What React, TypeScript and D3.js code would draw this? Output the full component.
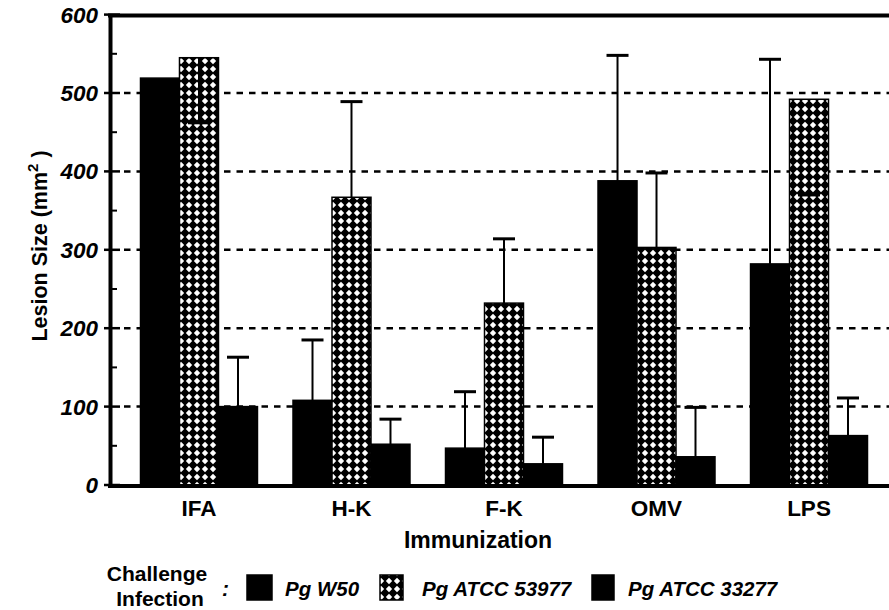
import React from 'react';
import * as d3 from 'd3';

const categories = ['IFA', 'H-K', 'F-K', 'OMV', 'LPS'];
const seriesNames = ['Pg W50', 'Pg ATCC 53977', 'Pg ATCC 33277'];
const w50 = [519, 108, 47, 388, 282];
const w50ErrEnd = [null, 185, 119, 548, 543];
const atcc53977 = [545, 367, 232, 303, 492];
const atcc53977ErrEnd = [462, 489, 314, 398, 370];
const atcc33277 = [100, 52, 27, 36, 63];
const atcc33277ErrEnd = [163, 84, 61, 99, 111];
const yTicks = [0, 100, 200, 300, 400, 500, 600];
const yMinorTicks = [50, 150, 250, 350, 450, 550];

const W = 889, H = 610;
const FONT = "'Liberation Sans', Arial, sans-serif";

export default function App() {
  const x = d3.scaleBand().domain(categories).range([110, 898]).paddingInner(0.233).paddingOuter(0.2);
  const xs = d3.scaleBand().domain(seriesNames).range([0, x.bandwidth()]);
  const y = d3.scaleLinear().domain([0, 600]).range([485, 14.6]);

  const values = [w50, atcc53977, atcc33277];
  const errs = [w50ErrEnd, atcc53977ErrEnd, atcc33277ErrEnd];
  const fills = ['#000', 'url(#xhatch)', '#000'];

  const bars = [];
  const errBars = [];
  categories.forEach((c, i) => {
    seriesNames.forEach((s, j) => {
      const x0 = x(c) + xs(s);
      const v = values[j][i];
      bars.push(
        <rect key={c + s} x={x0} y={y(v)} width={xs.bandwidth()} height={y(0) - y(v)}
          fill={fills[j]} stroke="#000" strokeWidth={1.5} />
      );
      const e = errs[j][i];
      if (e != null) {
        const cx = x0 + xs.bandwidth() / 2;
        errBars.push(
          <g key={'e' + c + s} stroke="#000">
            <line x1={cx} x2={cx} y1={y(v)} y2={y(e)} strokeWidth={2} />
            <line x1={cx - 11} x2={cx + 11} y1={y(e)} y2={y(e)} strokeWidth={3} />
          </g>
        );
      }
    });
  });

  // legend layout (swatch x, text x)
  const legendItems = [
    { sx: 247, tx: 285, w: 25 },
    { sx: 380, tx: 422, w: 23 },
    { sx: 592, tx: 628, w: 22 },
  ];

  return (
    <svg width={W} height={H} style={{ display: 'block', position: 'absolute', left: 0, top: 0 }}>
      <defs>
        <pattern id="xhatch" width={8} height={8} patternUnits="userSpaceOnUse" x={1} y={1}>
          <rect width={8} height={8} fill="#000" />
          <path d="M4,0.8 L7.2,4 L4,7.2 L0.8,4 Z" fill="#fff" />
        </pattern>
      </defs>
      <rect width={W} height={H} fill="#fff" />

      {/* grid */}
      {yTicks.filter(t => t > 0 && t < 600).map(t => (
        <line key={'g' + t} x1={124} x2={W} y1={y(t)} y2={y(t)} stroke="#000" strokeWidth={2.5} strokeDasharray="6.5 6" />
      ))}

      {bars}
      {errBars}

      {/* axes */}
      <line x1={108} x2={W} y1={15.5} y2={15.5} stroke="#000" strokeWidth={4} />
      <line x1={110.5} x2={110.5} y1={14} y2={487} stroke="#000" strokeWidth={4} />
      <line x1={108} x2={W} y1={486} y2={486} stroke="#000" strokeWidth={4} />
      {yTicks.map(t => (
        <line key={'t' + t} x1={104} x2={120} y1={y(t)} y2={y(t)} stroke="#000" strokeWidth={2.5} />
      ))}
      {yMinorTicks.map(t => (
        <line key={'m' + t} x1={110} x2={117} y1={y(t)} y2={y(t)} stroke="#000" strokeWidth={2} />
      ))}
      {yTicks.map(t => (
        <text key={'l' + t} x={98} y={y(t) + 8} textAnchor="end" fontFamily={FONT}
          fontWeight="bold" fontStyle="italic" fontSize={22.5}>{t}</text>
      ))}

      {categories.map(c => (
        <text key={'c' + c} x={x(c) + x.bandwidth() / 2} y={516} textAnchor="middle"
          fontFamily={FONT} fontWeight="bold" fontSize={22.5}>{c}</text>
      ))}
      <text x={478} y={548} textAnchor="middle" fontFamily={FONT} fontWeight="bold" fontSize={23}>Immunization</text>

      <text transform="translate(47,246) rotate(-90)" textAnchor="middle" fontFamily={FONT} fontWeight="bold" fontSize={21.5}>
        Lesion Size (mm<tspan fontSize={15} dy={-9}>2</tspan><tspan dy={9}> )</tspan>
      </text>

      {/* legend */}
      <text x={157} y={581} textAnchor="middle" fontFamily={FONT} fontWeight="bold" fontSize={21}>Challenge</text>
      <text x={160} y={606} textAnchor="middle" fontFamily={FONT} fontWeight="bold" fontSize={21}>Infection</text>
      <text x={222} y={596} fontFamily={FONT} fontWeight="bold" fontStyle="italic" fontSize={21}>:</text>
      {seriesNames.map((s, j) => (
        <g key={'lg' + s}>
          <rect x={legendItems[j].sx} y={575} width={legendItems[j].w} height={25} fill={fills[j]}
            stroke="#000" strokeWidth={1.5} />
          <text x={legendItems[j].tx} y={596} fontFamily={FONT} fontWeight="bold" fontStyle="italic" fontSize={20.5}>{s}</text>
        </g>
      ))}
    </svg>
  );
}
